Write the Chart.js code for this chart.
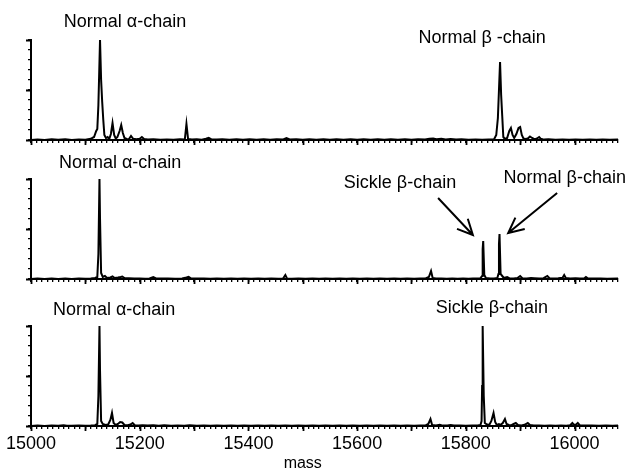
<!DOCTYPE html>
<html>
<head>
<meta charset="utf-8">
<script src="https://cdn.jsdelivr.net/npm/chart.js@4.4.0/dist/chart.umd.min.js"></script>
<style>
  html, body { margin: 0; padding: 0; background: #fff; }
  #wrap { position: relative; width: 632px; height: 472px; }
  canvas { position: absolute; left: 0; }
</style>
</head>
<body>
<div id="wrap">
  <canvas id="specNormal" style="top:0" width="632" height="150"></canvas>
  <canvas id="specTrait" style="top:150px" width="632" height="140"></canvas>
  <canvas id="specSickle" style="top:290px" width="632" height="182"></canvas>
</div>
<script>
// mass range and tick labels
const massMin = 15000;
const massMax = 16080;
const massLabels = [15000, 15200, 15400, 15600, 15800, 16000];

// normal hemoglobin: [mass, relative intensity]
const normalSpec = [
  [15000,0],[15012,0.006],[15025,0],[15038,0.007],[15050,0.002],[15063,0.008],[15075,0],[15088,0.006],
  [15100,0.003],[15110,0.012],[15116,0.03],[15120,0.09],[15122,0.11],[15124,0.35],[15127,1.0],[15129,0.6],
  [15131,0.38],[15133,0.2],[15135,0.05],[15138,0.02],[15141,0.03],[15144,0.01],[15147,0.06],[15150,0.17],
  [15153,0.05],[15156,0.015],[15159,0.03],[15163,0.09],[15166,0.15],[15169,0.07],[15172,0.02],[15176,0.01],
  [15180,0.008],[15184,0.04],[15188,0.012],[15194,0.008],[15200,0.012],[15204,0.03],[15208,0.01],[15215,0.004],
  [15225,0.007],[15238,0.002],[15250,0.006],[15262,0.002],[15274,0.007],[15283,0.005],[15286,0.16],[15289,0.01],
  [15296,0.004],[15305,0.008],[15314,0.003],[15322,0.012],[15327,0.022],[15332,0.006],[15342,0.004],[15352,0.008],
  [15365,0.002],[15378,0.007],[15390,0.003],[15402,0.008],[15415,0.002],[15428,0.007],[15440,0.003],[15452,0.008],
  [15463,0.004],[15470,0.02],[15476,0.006],[15488,0.008],[15500,0.002],[15512,0.007],[15525,0.002],[15538,0.008],
  [15550,0.003],[15562,0.007],[15575,0.002],[15588,0.008],[15600,0.002],[15612,0.007],[15625,0.002],[15638,0.007],
  [15650,0.003],[15662,0.008],[15675,0.002],[15688,0.007],[15700,0.003],[15712,0.008],[15725,0.004],[15733,0.012],
  [15740,0.015],[15746,0.008],[15755,0.012],[15763,0.006],[15772,0.01],[15782,0.004],[15792,0.008],[15805,0.003],
  [15818,0.006],[15830,0.002],[15842,0.006],[15852,0.008],[15856,0.05],[15859,0.22],[15861,0.5],[15863,0.78],
  [15865,0.45],[15867,0.24],[15869,0.03],[15872,0.01],[15876,0.02],[15880,0.09],[15883,0.12],[15886,0.05],
  [15889,0.02],[15893,0.06],[15897,0.12],[15900,0.13],[15903,0.05],[15906,0.015],[15910,0.01],[15914,0.015],
  [15918,0.035],[15922,0.02],[15926,0.008],[15930,0.012],[15935,0.03],[15938,0.012],[15944,0.004],[15952,0.007],
  [15965,0.002],[15978,0.006],[15990,0.002],[16002,0.006],[16015,0.002],[16028,0.006],[16040,0.002],[16052,0.006],
  [16065,0.002],[16080,0.004]
];

// sickle cell trait (both beta chains present)
const traitSpec = [
  [15000,0],[15012,0.004],[15025,0.001],[15038,0.005],[15050,0.001],[15063,0.004],[15075,0.001],[15088,0.006],
  [15100,0.002],[15110,0.004],[15118,0.01],[15122,0.02],[15124,0.25],[15126,1.0],[15127,0.6],[15129,0.06],
  [15132,0.02],[15136,0.03],[15140,0.01],[15146,0.015],[15150,0.025],[15154,0.01],[15160,0.015],[15165,0.02],
  [15168,0.025],[15172,0.01],[15180,0.008],[15190,0.004],[15200,0.006],[15210,0.003],[15218,0.006],[15225,0.02],
  [15230,0.005],[15240,0.004],[15252,0.006],[15265,0.003],[15278,0.005],[15286,0.015],[15290,0.022],[15294,0.006],
  [15305,0.004],[15318,0.006],[15330,0.003],[15342,0.005],[15355,0.002],[15368,0.005],[15380,0.002],[15392,0.005],
  [15405,0.002],[15418,0.005],[15430,0.002],[15442,0.005],[15455,0.003],[15464,0.006],[15468,0.04],[15471,0.006],
  [15480,0.003],[15492,0.005],[15505,0.002],[15518,0.005],[15530,0.002],[15542,0.005],[15555,0.002],[15568,0.005],
  [15580,0.002],[15592,0.005],[15605,0.002],[15618,0.005],[15630,0.002],[15642,0.005],[15655,0.002],[15668,0.005],
  [15680,0.002],[15692,0.005],[15705,0.002],[15716,0.005],[15725,0.004],[15732,0.02],[15736,0.08],[15739,0.01],
  [15745,0.004],[15755,0.006],[15765,0.003],[15775,0.005],[15785,0.002],[15795,0.005],[15805,0.002],[15813,0.005],
  [15820,0.005],[15827,0.008],[15830,0.03],[15831,0.3],[15832,0.38],[15834,0.04],[15837,0.01],[15845,0.006],
  [15852,0.006],[15858,0.01],[15860,0.05],[15861,0.35],[15862,0.45],[15864,0.05],[15867,0.03],[15870,0.01],
  [15876,0.02],[15880,0.008],[15888,0.006],[15895,0.01],[15900,0.03],[15904,0.008],[15912,0.006],[15920,0.01],
  [15926,0.008],[15935,0.006],[15943,0.008],[15950,0.03],[15954,0.008],[15962,0.006],[15970,0.008],[15978,0.012],
  [15981,0.04],[15984,0.01],[15992,0.006],[16002,0.008],[16010,0.006],[16018,0.008],[16021,0.02],[16025,0.005],
  [16035,0.004],[16048,0.006],[16060,0.003],[16080,0.004]
];

// sickle cell disease (sickle beta chain only)
const sickleSpec = [
  [15000,0],[15012,0.004],[15025,0.001],[15038,0.005],[15050,0.002],[15060,0.008],[15066,0.003],[15075,0.002],
  [15088,0.005],[15100,0.002],[15110,0.004],[15118,0.008],[15122,0.02],[15124,0.3],[15126,1.0],[15127,0.55],
  [15129,0.05],[15132,0.02],[15137,0.01],[15142,0.015],[15146,0.06],[15149,0.13],[15152,0.03],[15156,0.01],
  [15160,0.02],[15164,0.04],[15168,0.035],[15172,0.01],[15178,0.008],[15183,0.015],[15187,0.03],[15191,0.008],
  [15198,0.004],[15205,0.008],[15215,0.004],[15225,0.008],[15235,0.003],[15245,0.007],[15258,0.003],[15270,0.006],
  [15282,0.003],[15292,0.008],[15305,0.003],[15318,0.006],[15330,0.002],[15342,0.005],[15355,0.002],[15368,0.005],
  [15380,0.002],[15392,0.005],[15405,0.002],[15418,0.005],[15430,0.002],[15442,0.005],[15455,0.002],[15468,0.005],
  [15480,0.002],[15492,0.005],[15505,0.002],[15518,0.005],[15530,0.002],[15542,0.005],[15555,0.002],[15568,0.005],
  [15580,0.002],[15592,0.005],[15605,0.002],[15618,0.005],[15630,0.002],[15642,0.005],[15655,0.002],[15668,0.005],
  [15680,0.002],[15692,0.005],[15705,0.002],[15716,0.005],[15726,0.006],[15731,0.02],[15735,0.07],[15738,0.01],
  [15745,0.004],[15752,0.012],[15758,0.004],[15766,0.006],[15772,0.01],[15778,0.004],[15790,0.005],[15800,0.002],
  [15812,0.005],[15822,0.004],[15827,0.01],[15829,0.05],[15830,0.4],[15831,1.0],[15833,0.3],[15835,0.03],
  [15839,0.015],[15843,0.01],[15847,0.05],[15851,0.13],[15854,0.04],[15857,0.01],[15861,0.02],[15864,0.012],
  [15868,0.03],[15872,0.07],[15875,0.02],[15879,0.01],[15884,0.008],[15888,0.02],[15892,0.03],[15896,0.01],
  [15902,0.006],[15908,0.012],[15914,0.03],[15918,0.01],[15925,0.005],[15935,0.006],[15945,0.003],[15955,0.006],
  [15965,0.003],[15975,0.005],[15985,0.003],[15992,0.008],[15996,0.03],[15999,0.01],[16003,0.015],[16006,0.03],
  [16010,0.006],[16020,0.004],[16032,0.006],[16045,0.002],[16058,0.005],[16070,0.002],[16080,0.004]
];

// peak captions, placed in data units (mass, relative intensity)
const normalNotes = [
  { text: 'Normal α-chain', mass: 15173, level: 1.18 },
  { text: 'Normal β -chain', mass: 15830, level: 1.02 }
];
const traitNotes = [
  { text: 'Normal α-chain', mass: 15164, level: 1.16 },
  { text: 'Sickle β-chain', mass: 15679, level: 0.96 },
  { text: 'Normal β-chain', mass: 15982, level: 1.01 }
];
const traitArrows = [
  { from: [15749, 0.81], to: [15813, 0.44] },
  { from: [15968, 0.86], to: [15878, 0.46] }
];
const sickleNotes = [
  { text: 'Normal α-chain', mass: 15153, level: 1.16 },
  { text: 'Sickle β-chain', mass: 15848, level: 1.18 }
];

const FONT = '"Liberation Sans", Arial, Helvetica, sans-serif';

// extra drawing: longer major ticks, captions, arrows, axis title
const peakNotes = {
  id: 'peakNotes',
  afterDraw(chart, args, opts) {
    const ctx = chart.ctx;
    const xs = chart.scales.x, ys = chart.scales.y;
    const area = chart.chartArea;
    ctx.save();
    ctx.strokeStyle = '#000';
    ctx.fillStyle = '#000';

    // major ticks every 100 on mass axis
    ctx.lineWidth = 1.8;
    ctx.beginPath();
    for (let m = massMin; m <= massMax; m += 100) {
      const px = Math.round(xs.getPixelForValue(m)) + 0.5;
      ctx.moveTo(px, area.bottom);
      ctx.lineTo(px, area.bottom + 5);
    }
    // major ticks on intensity axis
    [0, 0.5, 1].forEach(v => {
      const py = Math.round(ys.getPixelForValue(v)) + 0.5;
      ctx.moveTo(area.left, py);
      ctx.lineTo(area.left - 5, py);
    });
    ctx.stroke();

    ctx.font = '18px ' + FONT;
    ctx.textAlign = 'center';
    ctx.textBaseline = 'middle';
    (opts.notes || []).forEach(n => {
      ctx.fillText(n.text, xs.getPixelForValue(n.mass), ys.getPixelForValue(n.level));
    });

    ctx.lineWidth = 2;
    (opts.arrows || []).forEach(a => {
      const x0 = xs.getPixelForValue(a.from[0]), y0 = ys.getPixelForValue(a.from[1]);
      const x1 = xs.getPixelForValue(a.to[0]), y1 = ys.getPixelForValue(a.to[1]);
      const ang = Math.atan2(y1 - y0, x1 - x0);
      const head = 17, spread = 0.45;
      ctx.beginPath();
      ctx.moveTo(x0, y0);
      ctx.lineTo(x1, y1);
      ctx.moveTo(x1 - head * Math.cos(ang - spread), y1 - head * Math.sin(ang - spread));
      ctx.lineTo(x1, y1);
      ctx.lineTo(x1 - head * Math.cos(ang + spread), y1 - head * Math.sin(ang + spread));
      ctx.stroke();
    });

    if (opts.title) {
      ctx.font = '16px ' + FONT;
      ctx.fillText(opts.title.text, xs.getPixelForValue(opts.title.mass), area.bottom + opts.title.offset);
    }
    ctx.restore();
  }
};

function makePanel(id, spec, padTop, axisHeight, showLabels, extras) {
  return new Chart(document.getElementById(id), {
    type: 'line',
    data: {
      datasets: [{
        data: spec.map(p => ({ x: p[0], y: p[1] })),
        borderColor: '#000',
        borderWidth: 2,
        pointRadius: 0,
        tension: 0,
        fill: false,
        clip: 6
      }]
    },
    options: {
      responsive: false,
      animation: false,
      events: [],
      layout: { padding: { top: padTop, right: 14, left: 0, bottom: 0 } },
      scales: {
        x: {
          type: 'linear',
          min: massMin,
          max: massMax,
          afterFit(s) { s.height = axisHeight; },
          border: { display: true, color: '#000', width: 2 },
          grid: { drawOnChartArea: false, drawTicks: true, tickLength: 3, color: '#000', lineWidth: 1.3 },
          ticks: {
            stepSize: 10,
            autoSkip: false,
            maxRotation: 0,
            minRotation: 0,
            padding: 4,
            color: '#000',
            font: { family: FONT, size: 18 },
            callback: v => (showLabels && massLabels.includes(v)) ? String(v) : ''
          }
        },
        y: {
          min: 0,
          max: 1,
          afterFit(s) { s.width = 31; },
          border: { display: true, color: '#000', width: 2 },
          grid: { drawOnChartArea: false, drawTicks: true, tickLength: 3, color: '#000', lineWidth: 1.3 },
          ticks: { stepSize: 0.1, display: false }
        }
      },
      plugins: {
        legend: { display: false },
        tooltip: { enabled: false },
        peakNotes: extras
      }
    },
    plugins: [peakNotes]
  });
}

makePanel('specNormal', normalSpec, 40, 10, false, { notes: normalNotes });
makePanel('specTrait', traitSpec, 29, 11, false, { notes: traitNotes, arrows: traitArrows });
makePanel('specSickle', sickleSpec, 36, 46, true, {
  notes: sickleNotes,
  title: { text: 'mass', mass: 15500, offset: 38 }
});
</script>
</body>
</html>
